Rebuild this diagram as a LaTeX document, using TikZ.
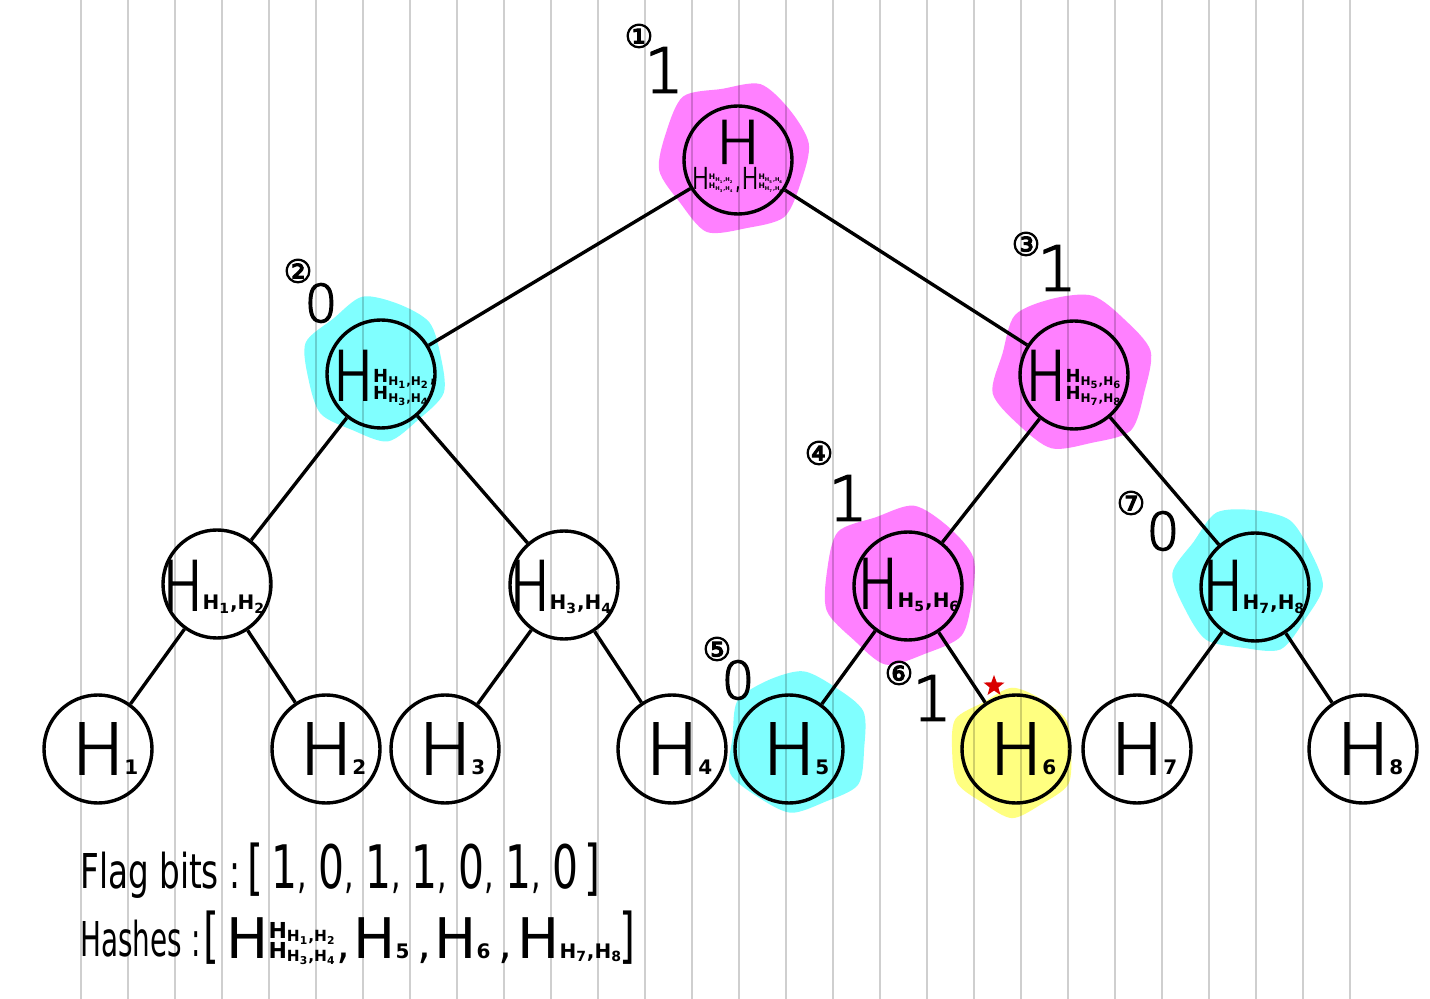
\documentclass[tikz,border=0pt]{standalone}
\usepackage{fontspec}
\setmainfont{DejaVu Sans}
\newfontfamily\penfont[FakeBold=2.5]{DejaVu Sans ExtraLight}
\newfontfamily\pennarrow[FakeBold=2.5,FakeStretch=0.78]{DejaVu Sans ExtraLight}
\newfontfamily\handfont[FakeStretch=0.68]{DejaVu Sans}
\newfontfamily\handnarrow[FakeStretch=0.58]{DejaVu Sans}
\newfontfamily\circfont[FakeBold=3]{DejaVu Sans}
\usetikzlibrary{calc,backgrounds,shapes.geometric}
\definecolor{hlpink}{RGB}{255,128,255}
\definecolor{hlcyan}{RGB}{128,255,255}
\definecolor{hlyellow}{RGB}{255,255,128}
\newcommand{\hp}[2]{H\textsubscript{H\textsubscript{#1},H\textsubscript{#2}}}
\newcommand{\hstack}[4]{{\rmfamily\bfseries\fontsize{#1}{#2}\selectfont\lineskiplimit=-100pt\vbox{\hbox{#3}\hbox{#4}}}}
\newcommand{\subs}[1]{{\rmfamily\bfseries\fontsize{10}{10}\selectfont #1}}
\newcommand{\lc}{{\fontsize{22}{22}\selectfont ,}}
\newcommand{\bc}{\lc\hspace{5.7pt}}
\def\blob[#1](#2)(#3:#4){\fill[#1, shift={(#2)}, rotate=#3, scale=#4] plot[smooth cycle] coordinates {(0:1) (30:0.94) (60:1.03) (90:0.95) (120:1.05) (150:0.93) (180:1.0) (210:0.95) (240:1.04) (270:0.91) (300:1.02) (330:0.96)};}

\begin{document}
\begin{tikzpicture}[x=0.5pt, y=-0.5pt,
    hnode/.style={circle, draw, line width=1.7pt, minimum size=54pt, inner sep=0pt},
    edge/.style={line width=1.7pt},
    leafH/.style={anchor=base, inner sep=0pt, font=\penfont\fontsize{35}{35}\selectfont},
    pairH/.style={anchor=base, inner sep=0pt, font=\pennarrow\fontsize{34}{34}\selectfont},
    bitone/.style={inner sep=0pt, font=\penfont\fontsize{31}{31}\selectfont},
    bitzero/.style={inner sep=0pt, font=\penfont\fontsize{26}{26}\selectfont},
    stepno/.style={inner sep=0pt, font=\circfont\fontsize{16}{16}\selectfont},
    listtxt/.style={anchor=base west, inner sep=0pt, font=\handfont\fontsize{24}{24}\selectfont},
    listbit/.style={anchor=base west, inner sep=0pt, font=\handfont\fontsize{30}{30}\selectfont},
    listH/.style={anchor=base west, inner sep=0pt, font=\rmfamily\fontsize{28}{28}\selectfont},
    gridline/.style={draw=black, opacity=0.19, line width=1pt}]
    \useasboundingbox (0,0) rectangle (1430,999);
    %%%%% TREE %%%%%
    \node[hnode] (n18) at (738,160) {};
    \node[hnode] (n1234) at (381,374) {};
    \node[hnode] (n5678) at (1074,375) {};
    \node[hnode] (n12) at (217,584) {};
    \node[hnode] (n34) at (564,585) {};
    \node[hnode] (n56) at (908,586) {};
    \node[hnode] (n78) at (1255,587) {};
    \foreach \i/\x in {1/98, 2/326, 3/445, 4/672, 5/789, 6/1016, 7/1137, 8/1363}
        \node[hnode] (n\i) at (\x,749) {};
    
    \foreach \a/\b in {n18/n1234, n18/n5678, n1234/n12, n1234/n34, n5678/n56, n5678/n78,
        n12/n1, n12/n2, n34/n3, n34/n4, n56/n5, n56/n6, n78/n7, n78/n8}
        \draw[edge] (\a) -- (\b);
    
    \foreach \i in {1,...,8}
        \node[leafH] (t\i) at ($(n\i)+(0,25)$) {H\rlap{\subs{\i}}};
    \node[pairH] (t12) at ($(n12)+(-3,26)$) {H\subs{H\textsubscript{1},H\textsubscript{2}}};
    \node[pairH] (t34) at ($(n34)+(-3,25)$) {H\subs{H\textsubscript{3},H\textsubscript{4}}};
    \node[pairH] (t56) at ($(n56)+(1,22)$) {H\subs{H\textsubscript{5},H\textsubscript{6}}};
    \node[pairH] (t78) at ($(n78)+(-1,23)$) {H\subs{H\textsubscript{7},H\textsubscript{8}}};
    \node[pairH] (t1234) at ($(n1234)+(4,26)$) {H\hstack{9}{8.5}{\hp{1}{2},}{\hp{3}{4}}};
    \node[pairH] (t5678) at ($(n5678)+(0,25)$) {H\hstack{9}{8.5}{\hp{5}{6}}{\hp{7}{8}}};
    \node[anchor=north, align=center, inner sep=0pt, font=\penfont\fontsize{29.5}{29.5}\selectfont] (t18) at ($(n18)+(0,-40)$)
        {H\\[-17pt]{\pennarrow\fontsize{14.5}{14.5}\selectfont H\hstack{3.8}{4.6}{\hp{1}{2}}{\hp{3}{4}},H\hstack{3.8}{4.6}{\hp{5}{6}}{\hp{7}{8}}}};
    
    %%%%% FLAGS %%%%%
    \node[stepno] (s1) at (639,36) {①};   \node[bitone] (f1) at (664,70) {1};
    \node[stepno] (s2) at (298,271) {②};  \node[bitzero] (f2) at (321,303) {0};
    \node[stepno] (s3) at (1026,244) {③}; \node[bitone] (f3) at (1057,268) {1};
    \node[stepno] (s4) at (819,453) {④};  \node[bitone] (f4) at (848,498) {1};
    \node[stepno] (s5) at (717,649) {⑤};  \node[bitzero] (f5) at (738,680) {0};
    \node[stepno] (s6) at (899,673) {⑥};  \node[bitone] (f6) at (932,698) {1};
    \node[stepno] (s7) at (1131,503) {⑦}; \node[bitzero] (f7) at (1163,531) {0};
    \node[star, star points=5, star point ratio=2.4, fill=red!85!black, minimum size=11pt, inner sep=0pt] (mark) at (994,686) {};
    
    %%%%% LISTS %%%%%
    \node[listtxt] (flagtxt) at (80,888) {Flag bits :};
    \node[listbit] (flags) at (247,888) {[\hspace{4pt}1\bc 0\bc 1\bc 1\bc 0\bc 1\bc 0\hspace{3pt}]};
    
    \node[listtxt, font=\handnarrow\fontsize{24}{24}\selectfont] (hashtxt) at (80,956) {Hashes :};
    \node[listbit] (hl) at (203,956) {[};
    \node[listH] (hh1) at (226,958) {H\hstack{11}{10}{\hp{1}{2}}{\hp{3}{4}}\lc};
    \node[listH] (hh2) at (353,958) {H\subs{5}\hspace{4pt}\lc};
    \node[listH] (hh3) at (434,958) {H\subs{6}\hspace{4pt}\lc};
    \node[listH] (hh4) at (517,958) {H\subs{H\textsubscript{7},H\textsubscript{8}}};
    \node[listbit] (hr) at (619,956) {]};
    
    %%%%% PAPER %%%%%
    \begin{scope}[on background layer]
        \fill[white] (0,0) rectangle (1430,999);
        \blob[hlpink]($(n18)+(-4,-3)$)(10:76)
        \blob[hlcyan]($(n1234)+(-6,-6)$)(40:71)
        \blob[hlpink]($(n5678)+(-2,-3)$)(75:79)
        \blob[hlpink]($(n56)+(-8,-2)$)(20:78)
        \blob[hlcyan]($(n78)+(-7,-7)$)(55:73)
        \blob[hlcyan]($(n5)+(8,-7)$)(85:71)
        \blob[hlyellow]($(n6)+(-4,3)$)(30:63)
        \foreach \gx in {0,...,27}
            \draw[gridline] ({81+47*\gx},0) -- ({81+47*\gx},999);
    \end{scope}
\end{tikzpicture}
\end{document}
